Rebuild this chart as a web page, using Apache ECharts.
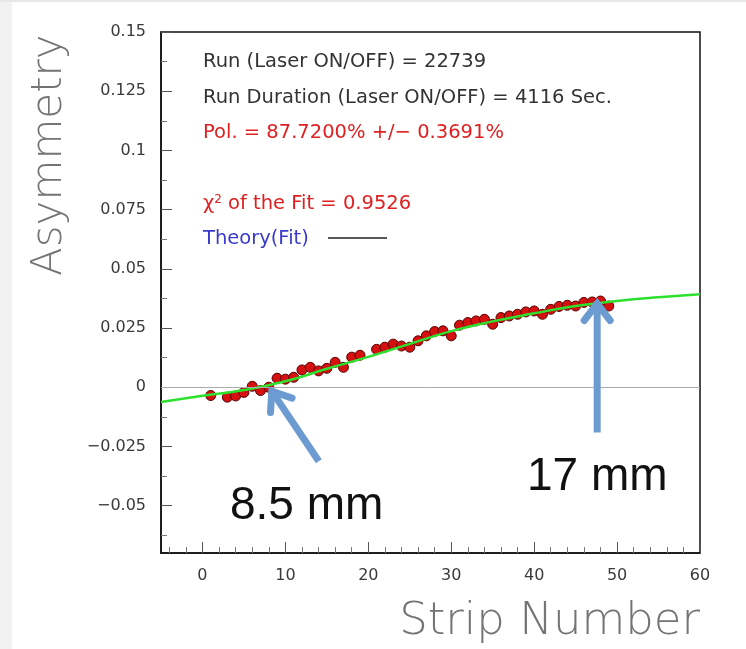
<!DOCTYPE html>
<html><head><meta charset="utf-8">
<script src="https://cdn.jsdelivr.net/npm/echarts@6/dist/echarts.min.js"></script>
<style>html,body{margin:0;padding:0;background:#fff;}#c{width:746px;height:649px;}</style>
</head><body><div id="c"></div>
<script>
// ---- data ----
const strips = [1,3,4,5,6,7,8,9,10,11,12,13,14,15,16,17,18,19,21,22,23,24,25,26,27,28,29,30,31,32,33,34,35,36,37,38,39,40,41,42,43,44,45,46,47,48,49];
const asymmetry = [-0.0035,-0.0042,-0.0037,-0.0022,0.0004,-0.0014,0.0,0.0038,0.0034,0.0042,0.0073,0.0084,0.0069,0.0080,0.0105,0.0084,0.0127,0.0135,0.0160,0.0169,0.0182,0.0174,0.0169,0.0196,0.0217,0.0235,0.0238,0.0217,0.0262,0.0273,0.0280,0.0287,0.0266,0.0294,0.0301,0.0308,0.0318,0.0322,0.0308,0.0329,0.0341,0.0346,0.0343,0.0358,0.0360,0.0364,0.0343];
const fitX = [-5,0,5,10,15,20,25,30,35,40,45,50,55,60];
const fitY = [-0.0062,-0.0036,-0.0012,0.0025,0.0078,0.0128,0.0183,0.0237,0.0278,0.0312,0.0343,0.0364,0.0380,0.0393];
const xTickLabels = [0,10,20,30,40,50,60];
const xMinorTicks = [-4,-2,2,4,6,8,12,14,16,18,22,24,26,28,32,34,36,38,42,44,46,48,52,54,56,58];
const yTickLabels = [-0.05,-0.025,0,0.025,0.05,0.075,0.1,0.125,0.15];
const yMinorTicks = [-0.0625,-0.0375,-0.0125,0.0125,0.0375,0.0625,0.0875,0.1125,0.1375];
const arrowTargets = [[8,0],[47.6,0.0362]];
const infoLines = ['Run (Laser ON/OFF) = 22739', 'Run Duration (Laser ON/OFF) = 4116 Sec.', 'Pol. = 87.7200% +/\u2212 0.3691%'];
const chiText = ' of the Fit = 0.9526';
const legendText = 'Theory(Fit)';

const chart = echarts.init(document.getElementById('c'));
const annFont = '"DejaVu Sans"';
const tickFont = 'DejaVu Sans';
const fmtY = v => v === 0 ? '0' : String(v).replace('-', '\u2212');
const annSize = 19.5;

const option = {
  animation: false,
  grid: {left:161, top:32, right:46, bottom:96, show:true, borderColor:'#111', borderWidth:1.5, backgroundColor:'#fff'},
  xAxis: [
    {type:'value', min:-5, max:60, position:'bottom',
     axisLine:{show:true, onZero:false, lineStyle:{color:'#111', width:1.5}},
     axisTick:{show:true, inside:true, length:11, customValues:xTickLabels, lineStyle:{color:'#555'}},
     axisLabel:{customValues:xTickLabels, color:'#3a3a3a', fontSize:16, fontFamily:tickFont, margin:15},
     splitLine:{show:false}},
    {type:'value', min:-5, max:60, position:'bottom',
     axisLine:{show:false, onZero:false},
     axisTick:{show:true, inside:true, length:6, customValues:xMinorTicks, lineStyle:{color:'#777'}},
     axisLabel:{show:false}, splitLine:{show:false}}
  ],
  yAxis: [
    {type:'value', min:-0.07, max:0.15, position:'left',
     axisLine:{show:true, onZero:false, lineStyle:{color:'#111', width:1.5}},
     axisTick:{show:true, inside:true, length:11, customValues:yTickLabels, lineStyle:{color:'#555'}},
     axisLabel:{customValues:yTickLabels, color:'#3a3a3a', fontSize:16, fontFamily:tickFont, margin:15, formatter:fmtY},
     splitLine:{show:false}},
    {type:'value', min:-0.07, max:0.15, position:'left',
     axisLine:{show:false, onZero:false},
     axisTick:{show:true, inside:true, length:6, customValues:yMinorTicks, lineStyle:{color:'#777'}},
     axisLabel:{show:false}, splitLine:{show:false}}
  ],
  series: [
    {type:'line', data:[], xAxisIndex:0, yAxisIndex:0, z:1,
     markLine:{silent:true, symbol:'none', label:{show:false}, lineStyle:{color:'#aaa', width:1, type:'solid'}, data:[{yAxis:0}]}},
    {type:'scatter', data: strips.map((s,i)=>[s, asymmetry[i]]), symbol:'circle', symbolSize:10, z:2,
     itemStyle:{color:'#d41010', borderColor:'#5a0000', borderWidth:1, opacity:1}},
    {type:'line', data: fitX.map((x,i)=>[x, fitY[i]]), smooth:true, showSymbol:false, z:3,
     lineStyle:{color:'#2ee02e', width:2.5}}
  ],
  graphic: [
    {type:'rect', x:0, y:0, shape:{width:12, height:649}, style:{fill:'#f2f2f2'}, z:0},
    {type:'rect', x:0, y:0, shape:{width:746, height:2}, style:{fill:'#e8e8e8'}, z:0},
    {type:'text', x:203, y:62, style:{text:infoLines[0], fill:'#333', font:annSize+'px '+annFont, verticalAlign:'middle'}},
    {type:'text', x:203, y:98, style:{text:infoLines[1], fill:'#333', font:annSize+'px '+annFont, verticalAlign:'middle'}},
    {type:'text', x:203, y:133, style:{text:infoLines[2], fill:'#e02020', font:annSize+'px '+annFont, verticalAlign:'middle'}},
    {type:'text', x:203, y:204, style:{
      text:'{a|\u03c7}{s|2}{a|'+chiText+'}', verticalAlign:'middle',
      rich:{a:{fill:'#e02020', font:annSize+'px '+annFont}, s:{fill:'#e02020', font:'12px '+annFont, verticalAlign:'top', padding:[0,0,8,0]}}}},
    {type:'text', x:203, y:239, style:{text:legendText, fill:'#3a3acc', font:annSize+'px '+annFont, verticalAlign:'middle'}},
    {type:'line', shape:{x1:328, y1:238, x2:387, y2:238}, style:{stroke:'#222', lineWidth:1.5}},
    {type:'text', x:50, y:276, rotation:Math.PI/2, style:{text:'Asymmetry', fill:'#747474', font:'200 42px "DejaVu Sans"', align:'left', verticalAlign:'middle'}},
    {type:'text', x:700, y:622, style:{text:'Strip Number', fill:'#747474', font:'200 45px "DejaVu Sans"', align:'right', verticalAlign:'middle'}},
    {type:'text', x:230, y:506, style:{text:'8.5 mm', fill:'#111', font:'46px "Liberation Sans"', verticalAlign:'middle'}},
    {type:'text', x:527, y:477, style:{text:'17 mm', fill:'#111', font:'46px "Liberation Sans"', verticalAlign:'middle'}}
  ]
};
chart.setOption(option);

// arrows pointing at data-space positions
function arrow(tip, tail, color) {
  const dx = tip[0]-tail[0], dy = tip[1]-tail[1];
  const len = Math.hypot(dx,dy), ux = dx/len, uy = dy/len;
  const hl = 17, hw = 13;
  const bx = tip[0]-ux*hl, by = tip[1]-uy*hl;
  const px = -uy, py = ux;
  return [
    {type:'line', shape:{x1:tail[0], y1:tail[1], x2:tip[0]-ux*2, y2:tip[1]-uy*2}, style:{stroke:color, lineWidth:7, lineCap:'butt'}, z:20},
    {type:'polyline', shape:{points:[[bx+px*hw, by+py*hw],[tip[0],tip[1]],[bx-px*hw, by-py*hw]]}, style:{stroke:color, lineWidth:7, fill:null, lineJoin:'miter', lineCap:'round'}, z:20}
  ];
}
const t1 = chart.convertToPixel({xAxisIndex:0, yAxisIndex:0}, arrowTargets[0]);
const t2 = chart.convertToPixel({xAxisIndex:0, yAxisIndex:0}, arrowTargets[1]);
const blue = '#6b9bd0';
const extra = [].concat(
  arrow([t1[0]+3, t1[1]+4], [t1[0]+50, t1[1]+74], blue),
  arrow([t2[0], t2[1]+2], [t2[0], t2[1]+131], blue)
);
chart.setOption({graphic: option.graphic.concat(extra)});
</script></body></html>
